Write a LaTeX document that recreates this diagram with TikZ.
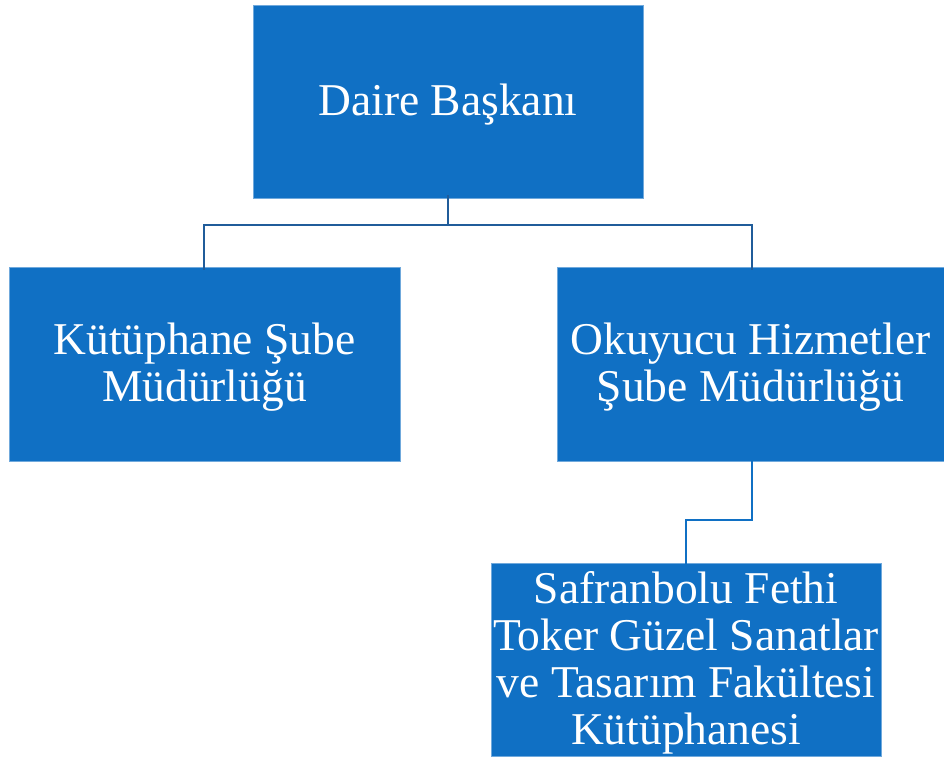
\documentclass[tikz,border=0pt]{standalone}
\usepackage{fontspec}
\setmainfont{Liberation Serif}
\definecolor{boxblue}{RGB}{16,112,196}
\definecolor{linedark}{RGB}{32,92,154}
\begin{document}
\begin{tikzpicture}[x=1pt,y=-1pt,
  orgbox/.style={fill=boxblue, draw=boxblue!60!white, line width=0.8pt, inner sep=0pt},
  orgtext/.style={text=white, align=center, font=\fontsize{45.5}{47}\selectfont, inner sep=0pt, yshift=-3pt},
  conn/.style={draw=linedark, line width=2.8pt}]
\useasboundingbox (0,0) rectangle (944,758);
\node[orgbox, minimum width=390pt, minimum height=193pt] (top) at (448,101.5) {};
\node[orgbox, minimum width=391pt, minimum height=194pt] (left) at (204.5,364) {};
\node[orgbox, minimum width=387pt, minimum height=194pt] (right) at (750.5,364) {};
\node[orgbox, minimum width=390pt, minimum height=193pt] (bot) at (686,659.5) {};
\node[orgtext] (toptxt) at (top.center) {Daire Başkanı};
\node[orgtext] (lefttxt) at (left.center) {Kütüphane Şube\\Müdürlüğü};
\node[orgtext] (righttxt) at (right.center) {Okuyucu Hizmetler\\Şube Müdürlüğü};
\node[orgtext] (bottxt) at (bot.center) {Safranbolu Fethi\\Toker Güzel Sanatlar\\ve Tasarım Fakültesi\\Kütüphanesi};
\coordinate (hy) at (0,225);
\coordinate (by) at (0,520);
\draw[conn] ([yshift=3pt]top.south) -- (top.south |- hy) -| ([xshift=-0.5pt,yshift=-3pt]left.north);
\draw[conn] (top.south |- hy) -| ([xshift=1.5pt,yshift=-3pt]right.north);
\draw[conn, draw=boxblue] ([xshift=1.5pt,yshift=3pt]right.south) -- ([xshift=1.5pt]right.south |- by) -| ([yshift=-3pt]bot.north);
\end{tikzpicture}
\end{document}
